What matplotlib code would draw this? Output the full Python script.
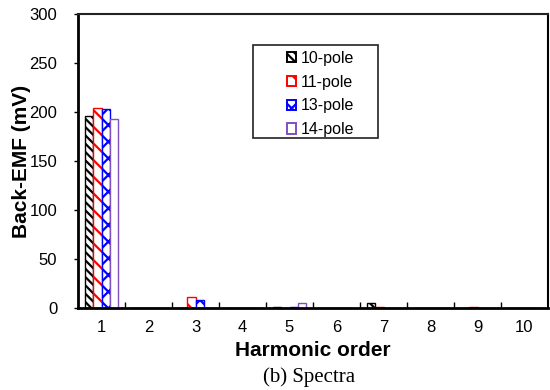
import matplotlib
matplotlib.use("Agg")
import matplotlib.pyplot as plt
import numpy as np
from matplotlib.patches import Patch, Rectangle

harmonics = [1, 2, 3, 4, 5, 6, 7, 8, 9, 10]
series_names = ["10-pole", "11-pole", "13-pole", "14-pole"]
pole10 = [196, 0, 0, 0, 1.5, 0, 5, 0, 0, 0]
pole11 = [204, 0, 11, 0, 0.5, 0, 1, 0, 0.6, 0]
pole13 = [203, 0, 8, 0, 1.2, 0, 0, 0, 0, 0]
pole14 = [193, 0, 0, 0, 5, 0, 0, 0, 0, 0]
y_ticks = [0, 50, 100, 150, 200, 250, 300]

colors = ["#000000", "#FF0000", "#0000FF", "#8050C0"]
hatches = ["\\\\\\\\", "\\\\", "xx", ""]

plt.rcParams['font.family'] = ['Liberation Sans', 'DejaVu Sans']
plt.rcParams['hatch.linewidth'] = 1.6

fig = plt.figure(figsize=(5.5, 3.9), dpi=100)
ax = fig.add_axes([78/550, 1-308/390, 470/550, 294/390])

x = np.arange(len(harmonics))
w = 0.18
data = [pole10, pole11, pole13, pole14]
for i, (vals, c, h) in enumerate(zip(data, colors, hatches)):
    ax.bar(x + (i - 1.5) * w, vals, width=w, facecolor="white", edgecolor=c,
           hatch=h, linewidth=1.0)

ax.set_xlim(-0.5, len(harmonics) - 0.5)
ax.set_ylim(0, 300)
ax.set_yticks(y_ticks)
ax.set_xticks(x)
ax.set_xticklabels([str(hh) for hh in harmonics])
ax.set_xticks(np.arange(0.5, len(harmonics) - 0.5, 1.0), minor=True)
ax.tick_params(axis='x', which='major', length=0, labelsize=12, pad=9)
ax.tick_params(axis='x', which='minor', direction='in', length=4, width=1)
ax.tick_params(axis='y', direction='out', length=3, width=1, labelsize=12, pad=12)

for s in ['left', 'bottom']:
    ax.spines[s].set_linewidth(2)
ax.spines['top'].set_linewidth(1.5)
ax.spines['top'].set_color('#222222')
ax.spines['right'].set_linewidth(1.5)

ax.set_xlabel("Harmonic order", fontsize=15, fontweight='bold', labelpad=4)
ax.set_ylabel("Back-EMF (mV)", fontsize=15, fontweight='bold', labelpad=-1)

# legend frame drawn as rectangle (wider than the entries, entries on the right)
box_l, box_r = (253 - 78) / 470, (378 - 78) / 470
box_t, box_b = (308 - 45) / 294, (308 - 138) / 294
ax.add_patch(Rectangle((box_l, box_b), box_r - box_l, box_t - box_b,
                       transform=ax.transAxes, facecolor='white',
                       edgecolor='#222222', linewidth=1.2, zorder=4))

handles = [Patch(facecolor='white', edgecolor=c, hatch=h, linewidth=1.4)
           for c, h in zip(colors, hatches)]
leg = ax.legend(handles, series_names, loc='upper left',
                bbox_to_anchor=((282 - 78) / 470, (308 - 46) / 294), fontsize=11.5,
                handlelength=0.6, handleheight=0.6, handletextpad=0.3,
                labelspacing=0.55, borderpad=0.3, frameon=False,
                borderaxespad=0)
leg.set_zorder(5)

fig.text(309/550, 1-377/390, "(b) Spectra", ha='center', va='center',
         fontsize=15, family=['Liberation Serif', 'DejaVu Serif'])

fig.savefig("out.png", dpi=100)
